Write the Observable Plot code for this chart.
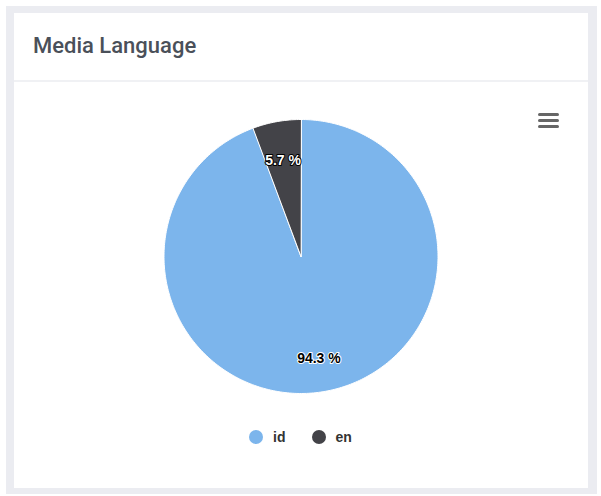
<!DOCTYPE html>
<html>
<head>
<meta charset="utf-8">
<script src="https://cdn.jsdelivr.net/npm/d3@7"></script>
<script src="https://cdn.jsdelivr.net/npm/@observablehq/plot@0.6"></script>
<style>
  html, body { margin: 0; padding: 0; background: #ffffff; width: 601px; height: 496px; overflow: hidden; }
  #frame { position: absolute; left: 6px; top: 6px; width: 591px; height: 488px; background: #ebecf1; }
  #card { position: absolute; left: 14px; top: 13px; width: 574px; height: 475px; background: #ffffff; }
  #title { position: absolute; left: 19px; top: 20px; font-family: Roboto, "Noto Sans", sans-serif; font-weight: 500; font-size: 22px; color: #4a5059; letter-spacing: 0px; }
  #divider { position: absolute; left: 0; top: 67px; width: 574px; height: 2px; background: #f0f1f4; }
  #menu { position: absolute; left: 524px; top: 100px; width: 21px; height: 16px; }
  #menu span { position: absolute; left: 0; width: 21px; height: 3px; border-radius: 2px; background: #666666; }
  #chart { position: absolute; left: 0; top: 118px; }
  #legend { position: absolute; left: 0; top: 428px; width: 601px; display: flex; justify-content: center; gap: 0; font-family: "Liberation Sans", Arial, sans-serif; font-weight: bold; font-size: 14px; color: #333333; }
  .item { display: flex; align-items: center; height: 18px; margin: 0 13px; }
  .sym { width: 14px; height: 14px; border-radius: 50%; margin-right: 10px; }
</style>
</head>
<body>
<div id="frame"></div>
<div id="card">
  <div id="title">Media Language</div>
  <div id="divider"></div>
  <div id="menu"><span style="top:0px"></span><span style="top:6px"></span><span style="top:12px"></span></div>
</div>
<div id="chart"></div>
<div id="legend"></div>
<script>
// Data
const categories = ["id", "en"];
const values = [94.3, 5.7];
const labels = ["94.3 %", "5.7 %"];
// Styles
const colors = ["#7cb5ec", "#434348"];
const labelFill = ["#000000", "#ffffff"];
const labelStroke = ["#ffffff", "#000000"];

const data = categories.map((name, i) => ({name, value: values[i], label: labels[i], color: colors[i], lf: labelFill[i], ls: labelStroke[i]}));

const arcs = d3.pie().sort(null).value(d => d.value)(data);

const features = arcs.map(a => {
  const n = Math.max(2, Math.ceil((a.endAngle - a.startAngle) / (Math.PI / 180)));
  const pts = [[0, 0]];
  for (let i = 0; i <= n; i++) {
    const t = a.startAngle + (a.endAngle - a.startAngle) * i / n;
    pts.push([Math.sin(t), -Math.cos(t)]);
  }
  pts.push([0, 0]);
  return {type: "Feature", properties: {color: a.data.color}, geometry: {type: "Polygon", coordinates: [pts]}};
});

const labelR = 0.735;
const labelPts = arcs.map(a => {
  const m = (a.startAngle + a.endAngle) / 2;
  return {x: labelR * Math.sin(m), y: -labelR * Math.cos(m), text: a.data.label, lf: a.data.lf, ls: a.data.ls};
});

const domain = {type: "MultiPoint", coordinates: [[-1, -1], [1, 1]]};

const chart = Plot.plot({
  width: 601,
  height: 276,
  margin: 1,
  projection: {type: "identity", domain},
  color: {type: "identity"},
  style: {background: "transparent", overflow: "visible"},
  marks: [
    Plot.geo(features, {fill: d => d.properties.color, stroke: "#ffffff", strokeWidth: 1, strokeLinejoin: "round"}),
    ...labelPts.map(p => Plot.text([p], {
      x: "x", y: "y", text: "text", dy: 3,
      fill: p.lf, stroke: p.ls, strokeWidth: 2, paintOrder: "stroke",
      fontSize: 14, fontWeight: "bold", fontFamily: "'Liberation Sans', Arial, sans-serif"
    }))
  ]
});
document.getElementById("chart").appendChild(chart);

const legend = document.getElementById("legend");
categories.forEach((c, i) => {
  const item = document.createElement("div");
  item.className = "item";
  const sym = document.createElement("div");
  sym.className = "sym";
  sym.style.background = colors[i];
  const txt = document.createElement("span");
  txt.textContent = c;
  item.appendChild(sym);
  item.appendChild(txt);
  legend.appendChild(item);
});
</script>
</body>
</html>
